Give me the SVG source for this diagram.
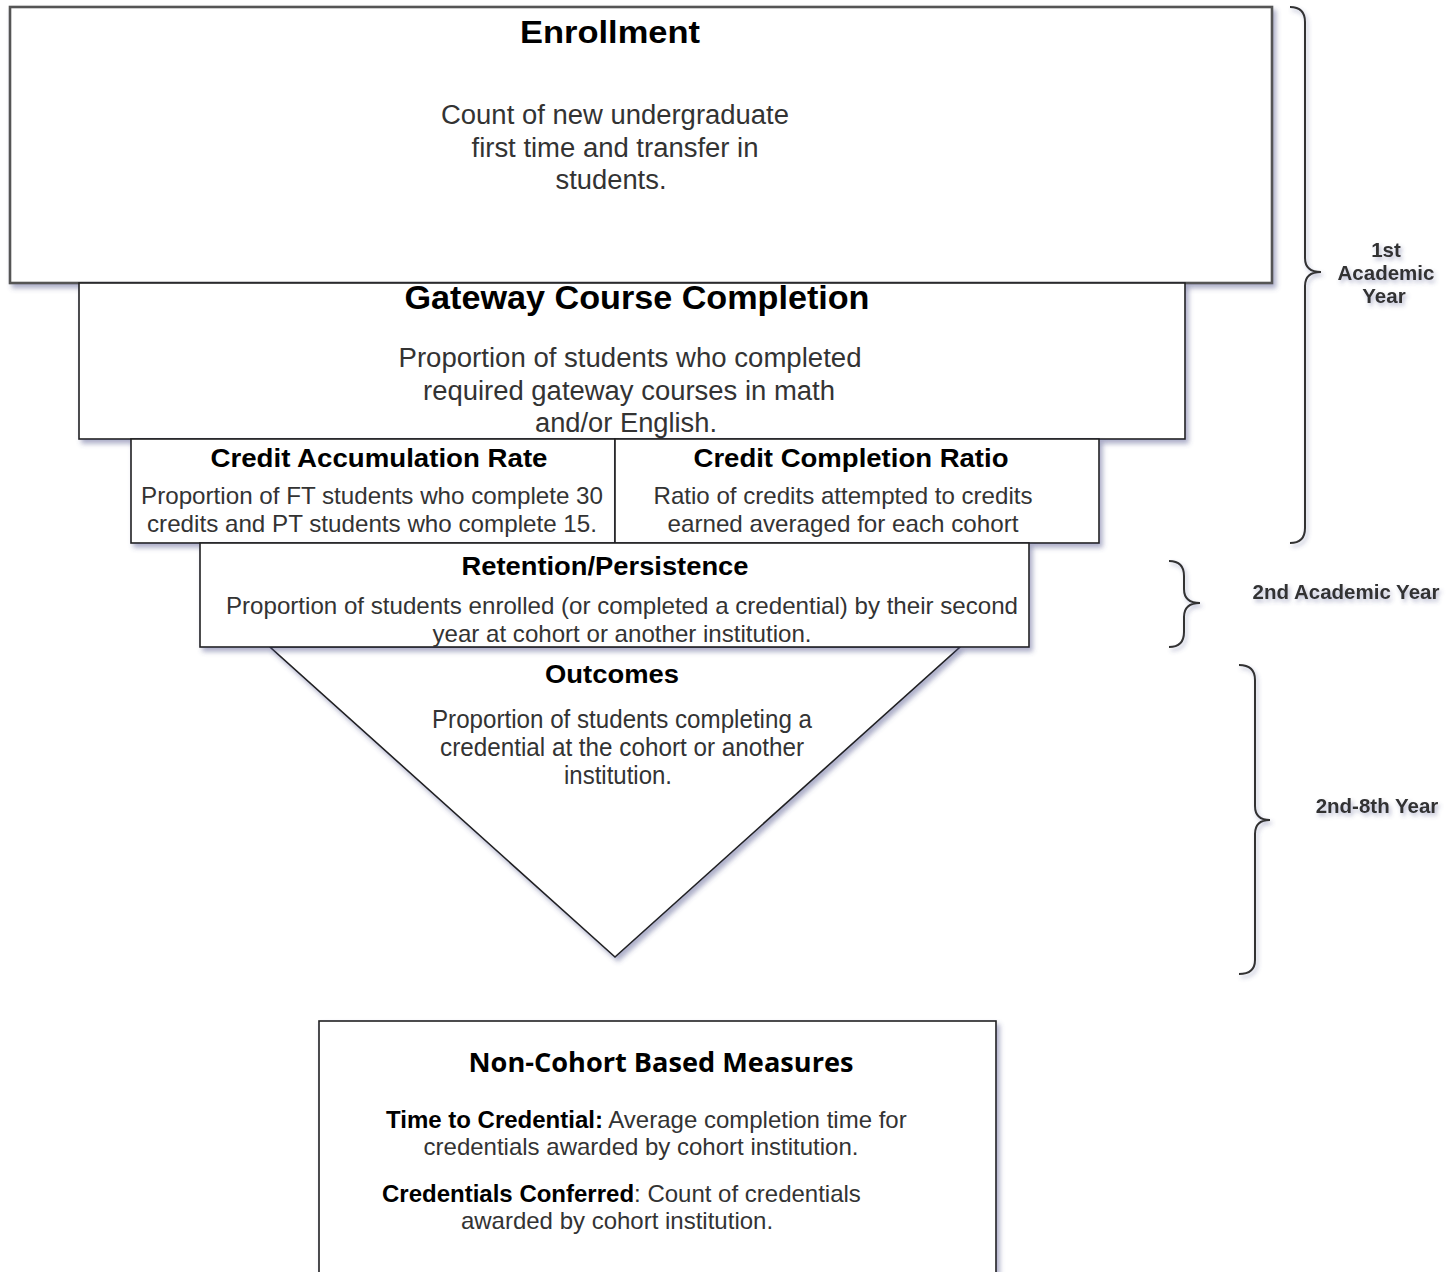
<svg xmlns="http://www.w3.org/2000/svg" width="1456" height="1272" viewBox="0 0 1456 1272">
<defs>
<filter id="sh" x="-10%" y="-10%" width="130%" height="130%">
<feDropShadow dx="3" dy="4" stdDeviation="2.5" flood-color="#4a5088" flood-opacity="0.45"/>
</filter>
<filter id="tsh" x="-20%" y="-30%" width="140%" height="170%">
<feDropShadow dx="2" dy="3" stdDeviation="2" flood-color="#4a5088" flood-opacity="0.4"/>
</filter>
</defs>
<style>
.box{fill:#fff;stroke:#222;stroke-width:1.6;filter:url(#sh)}
.box0{fill:#fff;stroke:#555;stroke-width:2.6;filter:url(#sh)}
.t{font-family:"Liberation Sans",Arial,sans-serif;font-weight:bold;fill:#000;text-anchor:middle}
.b{font-family:"Liberation Sans",Arial,sans-serif;fill:#333;text-anchor:middle}
.lab{font-family:"Liberation Sans",Arial,sans-serif;font-weight:bold;fill:#333;text-anchor:middle;font-size:20.5px;filter:url(#tsh)}
.brace{fill:none;stroke:#333;stroke-width:2;filter:url(#tsh)}
</style>
<rect width="1456" height="1272" fill="#fff"/>

<g id="enrollment">
<rect class="box0" x="10" y="7" width="1262" height="276"/>
<text class="t" x="610" y="43" font-size="32" textLength="180" lengthAdjust="spacingAndGlyphs">Enrollment</text>
<text class="b" x="615" y="124" font-size="27" textLength="348" lengthAdjust="spacingAndGlyphs">Count of new undergraduate</text>
<text class="b" x="615" y="157" font-size="27" textLength="287" lengthAdjust="spacingAndGlyphs">first time and transfer in</text>
<text class="b" x="611" y="189" font-size="27" textLength="111" lengthAdjust="spacingAndGlyphs">students.</text>
</g>

<g id="gateway">
<rect class="box" x="79" y="283" width="1106" height="156"/>
<text class="t" x="637" y="309" font-size="33" textLength="465" lengthAdjust="spacingAndGlyphs">Gateway Course Completion</text>
<text class="b" x="630" y="367" font-size="27" textLength="463" lengthAdjust="spacingAndGlyphs">Proportion of students who completed</text>
<text class="b" x="629" y="400" font-size="27" textLength="412" lengthAdjust="spacingAndGlyphs">required gateway courses in math</text>
<text class="b" x="626" y="432" font-size="27" textLength="182" lengthAdjust="spacingAndGlyphs">and/or English.</text>
</g>

<g id="credit-accumulation">
<rect class="box" x="131" y="439" width="484" height="104"/>
<text class="t" x="379" y="467" font-size="26" textLength="337" lengthAdjust="spacingAndGlyphs">Credit Accumulation Rate</text>
<text class="b" x="372" y="504" font-size="24" textLength="462" lengthAdjust="spacingAndGlyphs">Proportion of FT students who complete 30</text>
<text class="b" x="372" y="532" font-size="24" textLength="450" lengthAdjust="spacingAndGlyphs">credits and PT students who complete 15.</text>
</g>

<g id="credit-completion">
<rect class="box" x="615" y="439" width="484" height="104"/>
<text class="t" x="851" y="467" font-size="26" textLength="315" lengthAdjust="spacingAndGlyphs">Credit Completion Ratio</text>
<text class="b" x="843" y="504" font-size="24" textLength="379" lengthAdjust="spacingAndGlyphs">Ratio of credits attempted to credits</text>
<text class="b" x="843" y="532" font-size="24" textLength="351" lengthAdjust="spacingAndGlyphs">earned averaged for each cohort</text>
</g>

<g id="outcomes">
<path class="box" d="M270,647 L960,647 L615,957 Z"/>
<text class="t" x="612" y="683" font-size="25" textLength="134" lengthAdjust="spacingAndGlyphs">Outcomes</text>
<text class="b" x="622" y="728" font-size="25" textLength="380" lengthAdjust="spacingAndGlyphs">Proportion of students completing a</text>
<text class="b" x="622" y="756" font-size="25" textLength="364" lengthAdjust="spacingAndGlyphs">credential at the cohort or another</text>
<text class="b" x="618" y="784" font-size="25" textLength="108" lengthAdjust="spacingAndGlyphs">institution.</text>
</g>

<g id="retention">
<rect class="box" x="200" y="543" width="829" height="104"/>
<text class="t" x="605" y="575" font-size="26" textLength="287" lengthAdjust="spacingAndGlyphs">Retention/Persistence</text>
<text class="b" x="622" y="614" font-size="24" textLength="792" lengthAdjust="spacingAndGlyphs">Proportion of students enrolled (or completed a credential) by their second</text>
<text class="b" x="622" y="642" font-size="24" textLength="379" lengthAdjust="spacingAndGlyphs">year at cohort or another institution.</text>
</g>

<g id="non-cohort">
<rect class="box" x="319" y="1021" width="677" height="280"/>
<text x="661" y="1072" font-family="'Open Sans','Noto Sans',sans-serif" font-weight="bold" font-size="26" fill="#000" text-anchor="middle" textLength="385" lengthAdjust="spacingAndGlyphs">Non-Cohort Based Measures</text>
<text x="386" y="1128" font-family="'Liberation Sans',Arial,sans-serif" font-size="24" fill="#333"><tspan font-weight="bold" fill="#000">Time to Credential:</tspan> Average completion time for</text>
<text class="b" x="641" y="1155" font-size="24">credentials awarded by cohort institution.</text>
<text x="382" y="1202" font-family="'Liberation Sans',Arial,sans-serif" font-size="24" fill="#333"><tspan font-weight="bold" fill="#000">Credentials Conferred</tspan>: Count of credentials</text>
<text class="b" x="617" y="1229" font-size="24">awarded by cohort institution.</text>
</g>

<g id="braces">
<path class="brace" d="M1290,7 Q1305,7 1305,22 L1305,258 Q1305,272 1321,272 Q1305,272 1305,286 L1305,528 Q1305,543 1290,543"/>
<path class="brace" d="M1169,561 Q1184,561 1184,576 L1184,589 Q1184,603 1200,603 Q1184,603 1184,617 L1184,632 Q1184,647 1169,647"/>
<path class="brace" d="M1239,665 Q1255,665 1255,680 L1255,806 Q1255,820 1270,820 Q1255,820 1255,834 L1255,960 Q1255,974 1239,974"/>
</g>

<g id="labels">
<text class="lab" x="1386" y="257">1st</text>
<text class="lab" x="1386" y="280">Academic</text>
<text class="lab" x="1384" y="303">Year</text>
<text class="lab" x="1346" y="599">2nd Academic Year</text>
<text class="lab" x="1377" y="813">2nd-8th Year</text>
</g>
</svg>
